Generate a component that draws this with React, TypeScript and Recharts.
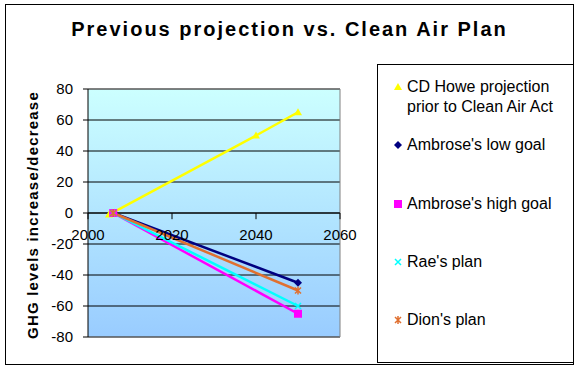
import React from 'react';
import { LineChart, Line, XAxis, YAxis, CartesianGrid, ReferenceLine, Legend } from 'recharts';

const FONT = "'Liberation Sans', Arial, sans-serif";

// axis ticks
const xTicks = [2000, 2020, 2040, 2060];
const yTicks = [-80, -60, -40, -20, 0, 20, 40, 60, 80];

// series values
const howeYears = [2005, 2040, 2050];
const howeValues = [-1, 50, 65];
const planYears = [2006, 2050];
const lowGoalValues = [0, -45];
const highGoalValues = [0, -65];
const raeValues = [0, -60];
const dionValues = [0, -50];

const seriesNames = [
  'CD Howe projection prior to Clean Air Act',
  "Ambrose's low goal",
  "Ambrose's high goal",
  "Rae's plan",
  "Dion's plan",
];
const seriesColors = ['#ffff00', '#000080', '#ff00ff', '#00ffff', '#e07030'];
const seriesShapes = ['triangle', 'diamond', 'square', 'cross', 'star'];

const toPoints = (xs: number[], ys: number[]) => xs.map((x, i) => ({ x, y: ys[i] }));

const seriesData = [
  toPoints(howeYears, howeValues),
  toPoints(planYears, lowGoalValues),
  toPoints(planYears, highGoalValues),
  toPoints(planYears, raeValues),
  toPoints(planYears, dionValues),
];

function Marker({ shape, cx, cy, color }: { shape: string; cx: number; cy: number; color: string }) {
  if (shape === 'triangle') {
    return <polygon points={`${cx},${cy - 4} ${cx + 4},${cy + 3} ${cx - 4},${cy + 3}`} fill={color} />;
  }
  if (shape === 'diamond') {
    return <polygon points={`${cx},${cy - 4} ${cx + 4},${cy} ${cx},${cy + 4} ${cx - 4},${cy}`} fill={color} />;
  }
  if (shape === 'square') {
    return <rect x={cx - 4} y={cy - 4} width={8} height={8} fill={color} />;
  }
  if (shape === 'cross') {
    return (
      <path d={`M${cx - 3},${cy - 3}L${cx + 3},${cy + 3}M${cx - 3},${cy + 3}L${cx + 3},${cy - 3}`} stroke={color} strokeWidth={1.5} />
    );
  }
  return (
    <path
      d={`M${cx - 3},${cy - 3}L${cx + 3},${cy + 3}M${cx - 3},${cy + 3}L${cx + 3},${cy - 3}M${cx},${cy - 4}L${cx},${cy + 4}`}
      stroke={color}
      strokeWidth={1.5}
    />
  );
}

const renderDot = (shape: string, color: string) => (props: any) => (
  <Marker key={`${shape}-${props.index}`} shape={shape} cx={props.cx} cy={props.cy} color={color} />
);

function LegendBox({ payload }: any) {
  // keep the series order, recharts sorts the payload by name
  const entries = [...(payload || [])].sort(
    (a: any, b: any) => seriesNames.indexOf(a.value) - seriesNames.indexOf(b.value)
  );
  return (
    <div style={{ fontFamily: FONT, fontSize: 16, lineHeight: '20px', color: '#000' }}>
      {entries.map((entry: any) => {
        const i = seriesNames.indexOf(entry.value);
        return (
          <div key={entry.value} style={{ display: 'flex', alignItems: 'flex-start', height: 58.3 }}>
            <svg width={10} height={20} style={{ marginLeft: 15, marginRight: 4, flexShrink: 0 }}>
              <Marker shape={seriesShapes[i]} cx={5} cy={10} color={seriesColors[i]} />
            </svg>
            <span style={{ maxWidth: 160 }}>{entry.value}</span>
          </div>
        );
      })}
    </div>
  );
}

function YLabel({ viewBox }: any) {
  const x = viewBox.x + 4;
  const y = viewBox.y + viewBox.height / 2 + 2;
  return (
    <text
      x={x}
      y={y}
      transform={`rotate(-90, ${x}, ${y})`}
      textAnchor="middle"
      dominantBaseline="central"
      fontFamily={FONT}
      fontWeight="bold"
      fontSize={15}
      letterSpacing={1.2}
      fill="#000"
    >
      GHG levels increase/decrease
    </text>
  );
}

export default function App() {
  return (
    <div style={{ position: 'absolute', left: 0, top: 0, width: 579, height: 368, background: '#fff', fontFamily: FONT }}>
      <div
        style={{
          position: 'absolute',
          left: 5,
          top: 4,
          width: 569,
          height: 361,
          border: '1px solid #000',
          boxSizing: 'border-box',
        }}
      />
      <div
        style={{
          position: 'absolute',
          left: 0,
          top: 18,
          width: 579,
          textAlign: 'center',
          fontSize: 20,
          fontWeight: 'bold',
          letterSpacing: 2,
          color: '#000',
        }}
      >
        Previous projection vs. Clean Air Plan
      </div>
      <LineChart
        width={579}
        height={368}
        margin={{ top: 89, right: 239, bottom: 31, left: 28 }}
        style={{ position: 'absolute', left: 0, top: 0 }}
      >
        <defs>
          <linearGradient id="plotBg" x1="0" y1="0" x2="0" y2="1">
            <stop offset="0%" stopColor="#ccffff" />
            <stop offset="100%" stopColor="#99ccff" />
          </linearGradient>
        </defs>
        <CartesianGrid vertical={false} stroke="#000" fill="url(#plotBg)" fillOpacity={1} />
        <XAxis dataKey="x" type="number" domain={[2000, 2060]} ticks={xTicks} hide allowDataOverflow />
        <YAxis
          type="number"
          domain={[-80, 80]}
          ticks={yTicks}
          width={60}
          interval={0}
          axisLine={{ stroke: '#000' }}
          tickLine={{ stroke: '#000' }}
          tickSize={5}
          tickMargin={10}
          tick={{ fill: '#000', fontSize: 15, fontFamily: FONT }}
          label={<YLabel />}
        />
        <ReferenceLine y={80} stroke="#808080" />
        <ReferenceLine y={-80} stroke="#808080" />
        <ReferenceLine x={2060} stroke="#808080" />
        <ReferenceLine y={0} stroke="#000" />
        {xTicks.map((t) => (
          <ReferenceLine
            key={t}
            segment={[
              { x: t, y: 0 },
              { x: t, y: -4 },
            ]}
            stroke="#000"
            label={{ value: String(t), position: 'bottom', offset: 10, fill: '#000', fontSize: 15, fontFamily: FONT }}
          />
        ))}
        {seriesNames.map((name, i) => (
          <Line
            key={name}
            name={name}
            data={seriesData[i]}
            dataKey="y"
            stroke={seriesColors[i]}
            strokeWidth={2.5}
            dot={renderDot(seriesShapes[i], seriesColors[i])}
            activeDot={false}
            isAnimationActive={false}
          />
        ))}
        <Legend
          layout="vertical"
          align="center"
          verticalAlign="middle"
          content={<LegendBox />}
          wrapperStyle={{
            position: 'absolute',
            left: 377,
            top: 64,
            width: 197,
            height: 299,
            border: '1px solid #000',
            boxSizing: 'border-box',
            paddingTop: 12,
            background: '#fff',
          }}
        />
      </LineChart>
    </div>
  );
}
